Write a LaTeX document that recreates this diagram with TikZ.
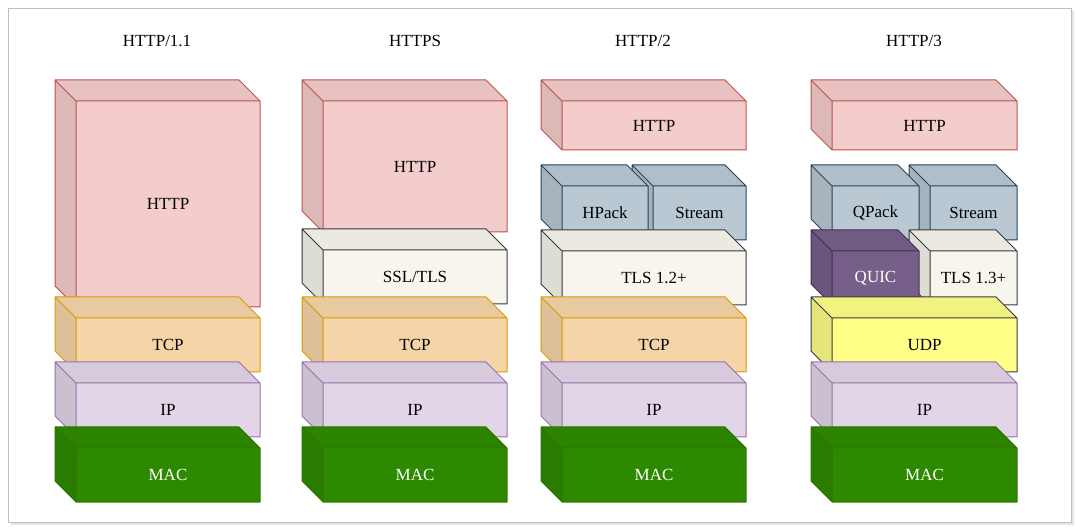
\documentclass[tikz,border=0pt]{standalone}
\usepackage{fontspec}
\setmainfont{Liberation Serif}
\definecolor{httpF}{HTML}{F4CCCB}\definecolor{httpD}{HTML}{B85450}
\definecolor{tcpF}{HTML}{F5D5A8}\definecolor{tcpD}{HTML}{D79B00}
\definecolor{ipF}{HTML}{E1D5E7}\definecolor{ipD}{HTML}{9673A6}
\definecolor{macF}{HTML}{2D8A00}\definecolor{macD}{HTML}{2D7600}
\definecolor{sslF}{HTML}{F7F5EC}\definecolor{sslD}{HTML}{36393D}
\definecolor{hpF}{HTML}{BAC8D3}\definecolor{hpD}{HTML}{23445D}
\definecolor{quF}{HTML}{76608A}\definecolor{quD}{HTML}{432D57}
\definecolor{udpF}{HTML}{FFFF88}\definecolor{udpD}{HTML}{36393D}
\tikzset{lbl/.style={font=\fontsize{17}{20}\selectfont, inner sep=0pt}}
% \mycube{x0}{y0}{x1}{y1}{fill}{draw}{textcolor}{name}{text}
\newcommand{\mycube}[9]{%
  \fill[#5!95!black] (#1,#2) -- (#3-21,#2) -- (#3,#2+21) -- (#1+21,#2+21) -- cycle;
  \fill[#5!90!black] (#1,#2) -- (#1+21,#2+21) -- (#1+21,#4) -- (#1,#4-21) -- cycle;
  \fill[#5] (#1+21,#2+21) rectangle (#3,#4);
  \draw[#6, line width=1pt, line join=round] (#1,#2) -- (#3-21,#2) -- (#3,#2+21) -- (#3,#4) -- (#1+21,#4) -- (#1,#4-21) -- cycle
     (#1,#2) -- (#1+21,#2+21) -- (#3,#2+21) (#1+21,#2+21) -- (#1+21,#4);
  \node[lbl, text=#7] (#8) at ({(#1+21+#3)/2},{(#2+21+#4)/2}) {#9};}
\begin{document}
\begin{tikzpicture}[x=1pt,y=-1pt]
\useasboundingbox (0,0) rectangle (1080,529);
\fill[black!10] (11,11) rectangle (1074,525);
\draw[black!25, fill=white] (8,8) rectangle (1071,522);
\node[lbl] (t1) at (157,41) {HTTP/1.1};
\node[lbl] (t2) at (415,41) {HTTPS};
\node[lbl] (t3) at (643,41) {HTTP/2};
\node[lbl] (t4) at (914,41) {HTTP/3};
% column 1
\mycube{55}{80}{260}{307}{httpF}{httpD}{black}{a1}{HTTP}
\mycube{55}{297}{260}{372}{tcpF}{tcpD}{black}{a2}{TCP}
\mycube{55}{362}{260}{437}{ipF}{ipD}{black}{a3}{IP}
\mycube{55}{427}{260}{502}{macF}{macD}{white}{a4}{MAC}
% column 2
\mycube{302}{80}{507}{232}{httpF}{httpD}{black}{b1}{HTTP}
\mycube{302}{229}{507}{304}{sslF}{sslD}{black}{b2}{SSL/TLS}
\mycube{302}{297}{507}{372}{tcpF}{tcpD}{black}{b3}{TCP}
\mycube{302}{362}{507}{437}{ipF}{ipD}{black}{b4}{IP}
\mycube{302}{427}{507}{502}{macF}{macD}{white}{b5}{MAC}
% column 3
\mycube{541}{80}{746}{150}{httpF}{httpD}{black}{c1}{HTTP}
\mycube{632}{165}{746}{240}{hpF}{hpD}{black}{c3}{Stream}
\mycube{541}{165}{648}{240}{hpF}{hpD}{black}{c2}{HPack}
\mycube{541}{230}{746}{305}{sslF}{sslD}{black}{c4}{TLS 1.2+}
\mycube{541}{297}{746}{372}{tcpF}{tcpD}{black}{c5}{TCP}
\mycube{541}{362}{746}{437}{ipF}{ipD}{black}{c6}{IP}
\mycube{541}{427}{746}{502}{macF}{macD}{white}{c7}{MAC}
% column 4
\mycube{811}{80}{1017}{150}{httpF}{httpD}{black}{d1}{HTTP}
\mycube{909}{165}{1017}{240}{hpF}{hpD}{black}{d3}{Stream}
\mycube{811}{165}{919}{240}{hpF}{hpD}{black}{d2}{QPack}
\mycube{909}{230}{1017}{305}{sslF}{sslD}{black}{d5}{TLS 1.3+}
\mycube{811}{230}{919}{305}{quF}{quD}{white}{d4}{QUIC}
\mycube{811}{297}{1017}{372}{udpF}{udpD}{black}{d6}{UDP}
\mycube{811}{362}{1017}{437}{ipF}{ipD}{black}{d7}{IP}
\mycube{811}{427}{1017}{502}{macF}{macD}{white}{d8}{MAC}
\end{tikzpicture}
\end{document}
